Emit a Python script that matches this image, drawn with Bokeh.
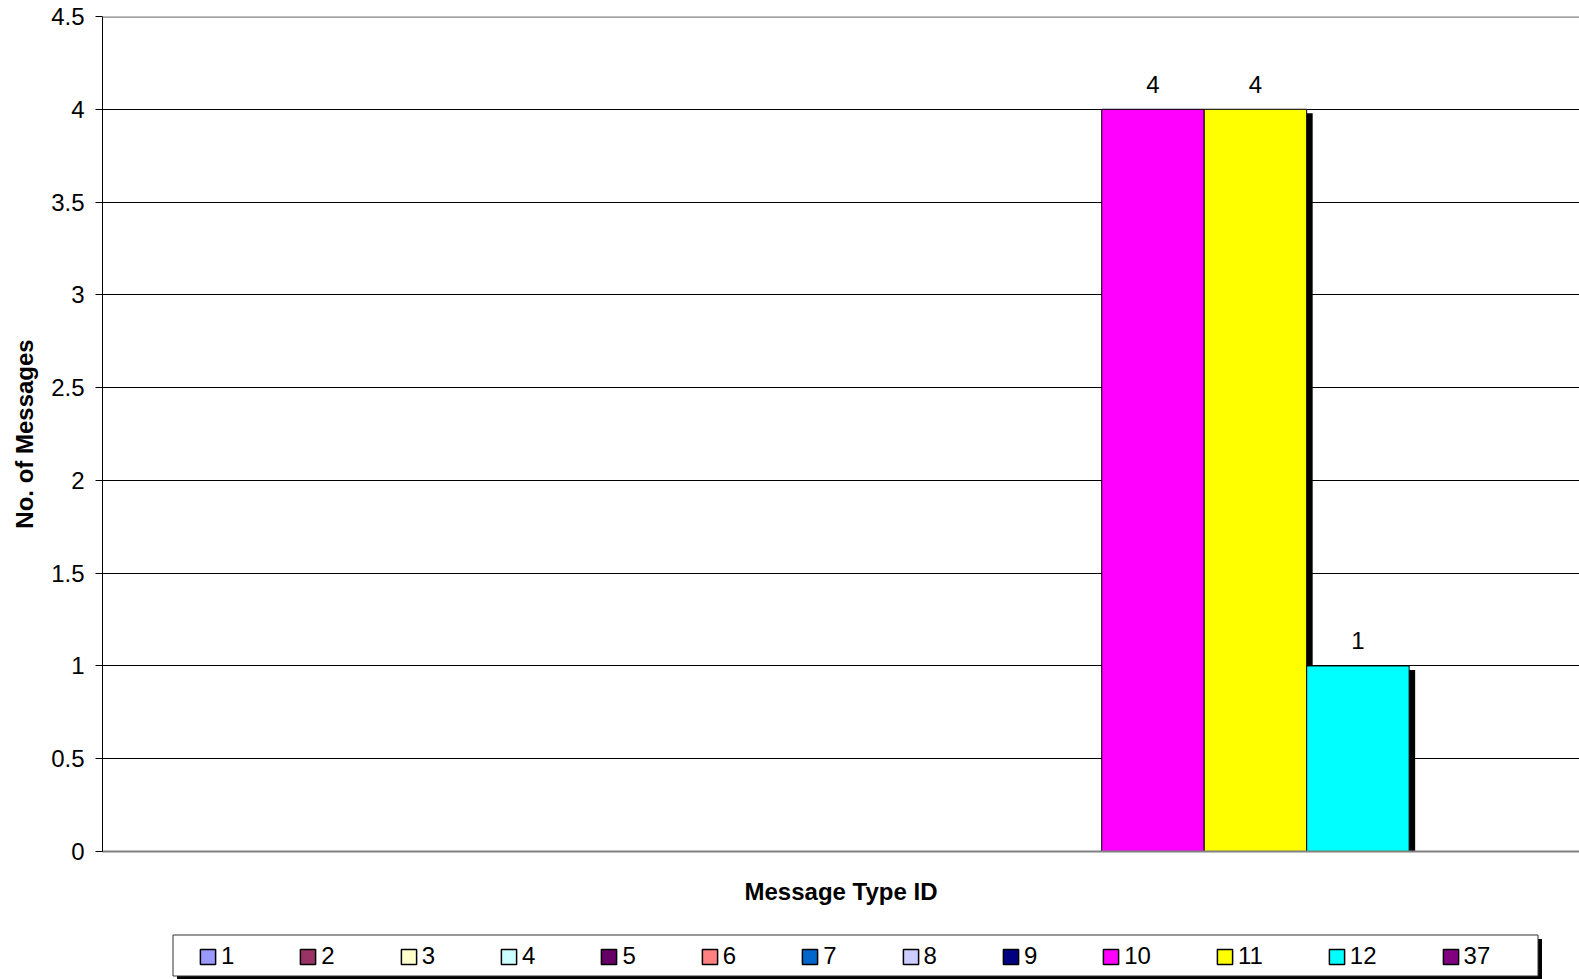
from bokeh.plotting import figure
from bokeh.layouts import column
from bokeh.models import Range1d, FixedTicker, Span, Legend, LegendItem
from bokeh.core.properties import value
from bokeh.embed import file_html
from bokeh.resources import INLINE

# ---------------- data ----------------
SERIES = ["1", "2", "3", "4", "5", "6", "7", "8", "9", "10", "11", "12", "37"]
COUNTS = [None, None, None, None, None, None, None, None, None, 4, 4, 1, None]
COLORS = ["#9999FF", "#993366", "#FFFFCC", "#CCFFFF", "#660066", "#FF8080",
          "#0066CC", "#CCCCFF", "#000080", "#FF00FF", "#FFFF00", "#00FFFF", "#800080"]
X_TITLE = "Message Type ID"
Y_TITLE = "No. of Messages"
Y_TICKS = [0, 0.5, 1, 1.5, 2, 2.5, 3, 3.5, 4, 4.5]
Y_TICK_LABELS = ["0", "0.5", "1", "1.5", "2", "2.5", "3", "3.5", "4", "4.5"]

# ---------------- style ----------------
FONT = "Liberation Sans"
FS = "24px"
W = 1579
H_MAIN, H_LEG = 920, 59
LEFT, TOP, BOTTOM = 102, 16, 69
FRAME_W = W - LEFT
FRAME_H = H_MAIN - TOP - BOTTOM
GAP = 1.5                 # Excel gap width 150 %
FULL_PX = 1486            # pixel width of the whole category group in the original
n = len(SERIES)
UNIT_X = (n + GAP) / FULL_PX
UNIT_Y = (Y_TICKS[-1] - Y_TICKS[0]) / FRAME_H
x_start = -GAP / 2
x_end = x_start + FRAME_W * UNIT_X
NAN = float("nan")

p = figure(width=W, height=H_MAIN, x_range=Range1d(x_start, x_end),
           y_range=Range1d(Y_TICKS[0], Y_TICKS[-1]),
           output_backend="svg", toolbar_location=None,
           min_border_left=LEFT, min_border_right=0,
           min_border_top=TOP, min_border_bottom=BOTTOM)
p.outline_line_color = None

# x axis (title only)
p.xaxis.ticker = FixedTicker(ticks=[])
p.xaxis.axis_label = X_TITLE
p.xaxis.axis_label_text_font = FONT
p.xaxis.axis_label_text_font_size = FS
p.xaxis.axis_label_text_font_style = "bold"
p.xaxis.axis_label_text_color = "black"
p.xaxis.axis_label_standoff = 26
p.xaxis.axis_line_color = "#808080"
p.xaxis.axis_line_width = 2
p.xaxis.major_tick_line_color = None
p.xaxis.minor_tick_line_color = None
p.xgrid.visible = False

# y axis
p.yaxis.ticker = FixedTicker(ticks=Y_TICKS)
p.yaxis.major_label_overrides = dict(zip(Y_TICKS, Y_TICK_LABELS))
p.yaxis.major_label_text_font = FONT
p.yaxis.major_label_text_font_size = FS
p.yaxis.major_label_text_color = "black"
p.yaxis.major_label_standoff = 11
p.yaxis.major_tick_out = 7
p.yaxis.major_tick_in = 0
p.yaxis.major_tick_line_color = "black"
p.yaxis.minor_tick_line_color = None
p.yaxis.axis_line_color = "black"
p.yaxis.axis_label = Y_TITLE
p.yaxis.axis_label_text_font = FONT
p.yaxis.axis_label_text_font_size = FS
p.yaxis.axis_label_text_font_style = "bold"
p.yaxis.axis_label_text_color = "black"
p.yaxis.axis_label_standoff = 10
p.ygrid.ticker = FixedTicker(ticks=Y_TICKS)
p.ygrid.grid_line_color = "black"
p.ygrid.grid_line_width = 1

p.add_layout(Span(location=Y_TICKS[-1], dimension="width",
                  line_color="#808080", line_width=2.5))

# shadows then bars
SH_DX, SH_DY = 6 * UNIT_X, 4 * UNIT_Y
centers = [i + 0.5 for i in range(n)]
for i in range(n):
    v = COUNTS[i]
    top = NAN if v is None else v
    p.vbar(x=[centers[i] + SH_DX], top=[top - SH_DY], bottom=0, width=1,
           fill_color="black", line_color=None)
for i in range(n):
    v = COUNTS[i]
    top = NAN if v is None else v
    p.vbar(x=[centers[i]], top=[top], bottom=0, width=1,
           fill_color=COLORS[i], line_color="black", line_width=1)

# data labels
lx = [centers[i] for i in range(n) if COUNTS[i] is not None]
ly = [COUNTS[i] for i in range(n) if COUNTS[i] is not None]
lt = [str(COUNTS[i]) for i in range(n) if COUNTS[i] is not None]
p.text(x=lx, y=ly, text=lt, text_align="center", text_baseline="alphabetic",
       y_offset=-25, text_font=value(FONT), text_font_size=FS, text_color="black")

# ---------------- legend strip (frame aligned with the chart's frame) ----------------
lg = figure(width=W, height=H_LEG, x_range=Range1d(LEFT, W), y_range=Range1d(H_LEG, 0),
            output_backend="svg", toolbar_location=None,
            x_axis_location=None, y_axis_location=None,
            min_border_left=LEFT, min_border_right=0, min_border_top=0, min_border_bottom=0)
lg.outline_line_color = None
lg.xgrid.visible = False
lg.ygrid.visible = False

BOX_L, BOX_R, BOX_T, BOX_B, SH = 172.5, 1537.5, 14.5, 55.5, 4
lg.quad(left=[BOX_L + SH], right=[BOX_R + SH], top=[BOX_T + SH], bottom=[BOX_B + SH],
        fill_color="black", line_color=None)
lg.quad(left=[BOX_L], right=[BOX_R], top=[BOX_T], bottom=[BOX_B],
        fill_color="white", line_color="#333333", line_width=1)

items = []
for i in range(n):
    r = lg.vbar(x=[NAN], top=[NAN], width=1, fill_color=COLORS[i],
                line_color="black", line_width=1.5)
    items.append(LegendItem(label=SERIES[i], renderers=[r]))

PAD = 7
GLYPH = 19
legend = Legend(items=items, orientation="horizontal", location=(205 - PAD - LEFT, 9),
                glyph_width=GLYPH, glyph_height=GLYPH, label_standoff=4, spacing=64,
                label_width=0, padding=PAD, margin=0,
                label_text_font=FONT, label_text_font_size=FS, label_text_color="black",
                background_fill_alpha=0, border_line_color=None)
lg.add_layout(legend, "center")

open("out.html", "w").write(file_html(column(p, lg), INLINE))
